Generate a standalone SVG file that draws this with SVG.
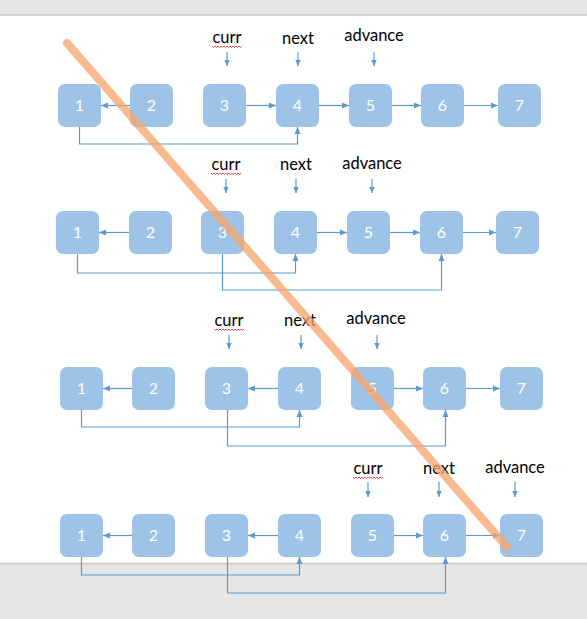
<svg xmlns="http://www.w3.org/2000/svg" width="587" height="619" viewBox="0 0 587 619">
<style>
.bg{fill:#ffffff}
.band{fill:#e6e6e6}
.bandline{stroke:#c8c8c8;stroke-width:1.5;fill:none}
.box{fill:#9dc3e6}
.num{fill:#ffffff;font-family:Lato,"Open Sans","Liberation Sans",sans-serif;font-size:16px;text-anchor:middle}
.lbl{fill:#000000;font-family:Lato,"Open Sans","Liberation Sans",sans-serif;font-size:16.5px;text-anchor:middle}
.con{stroke:#5b9bd5;stroke-width:1.2;fill:none;marker-end:url(#ah)}
.ptr{stroke:#5b9bd5;stroke-width:1.2;fill:none;marker-end:url(#ahs)}
.squig{stroke:#e02020;stroke-width:0.8;fill:none}
.slash{stroke:#f7a46c;stroke-opacity:0.76;stroke-width:8;stroke-linecap:round;fill:none}
</style>
<defs>
<marker id="ah" markerUnits="userSpaceOnUse" markerWidth="8" markerHeight="8" refX="7" refY="4" orient="auto">
<path d="M0,1 L7,4 L0,7 z" fill="#5b9bd5"/>
</marker>
<marker id="ahs" markerUnits="userSpaceOnUse" markerWidth="7" markerHeight="7" refX="6" refY="3.5" orient="auto">
<path d="M0,0.8 L6,3.5 L0,6.2 z" fill="#5b9bd5"/>
</marker>
<rect id="b" width="43" height="43" rx="7" ry="7"/>
</defs>
<rect class="bg" x="0" y="0" width="587" height="619"/>
<rect class="band" x="0" y="0" width="587" height="15"/>
<path class="bandline" d="M0,15 H587"/>
<rect class="band" x="0" y="564" width="587" height="55"/>
<path class="bandline" d="M0,563.5 H587"/>

<!-- Row 1 -->
<g id="r1-n1"><use href="#b" class="box" x="58" y="84"/><text class="num" x="79.5" y="111">1</text></g>
<g id="r1-n2"><use href="#b" class="box" x="130" y="84"/><text class="num" x="151.5" y="111">2</text></g>
<g id="r1-n3"><use href="#b" class="box" x="203" y="84"/><text class="num" x="224.5" y="111">3</text></g>
<g id="r1-n4"><use href="#b" class="box" x="276" y="84"/><text class="num" x="297.5" y="111">4</text></g>
<g id="r1-n5"><use href="#b" class="box" x="349" y="84"/><text class="num" x="370.5" y="111">5</text></g>
<g id="r1-n6"><use href="#b" class="box" x="421" y="84"/><text class="num" x="442.5" y="111">6</text></g>
<g id="r1-n7"><use href="#b" class="box" x="498" y="84"/><text class="num" x="519.5" y="111">7</text></g>
<g id="r1-labels">
<text class="lbl" x="227" y="43">curr</text>
<path class="squig" d="M212,46 l1.5,1.5 l1.5,-1.5 l1.5,1.5 l1.5,-1.5 l1.5,1.5 l1.5,-1.5 l1.5,1.5 l1.5,-1.5 l1.5,1.5 l1.5,-1.5 l1.5,1.5 l1.5,-1.5 l1.5,1.5 l1.5,-1.5 l1.5,1.5 l1.5,-1.5 l1.5,1.5 l1.5,-1.5 l1.5,1.5 l1.5,-1.5"/>
<text class="lbl" x="298" y="44">next</text>
<text class="lbl" x="374" y="41">advance</text>
</g>

<!-- Row 2 -->
<g id="r2-n1"><use href="#b" class="box" x="56" y="211"/><text class="num" x="77.5" y="238">1</text></g>
<g id="r2-n2"><use href="#b" class="box" x="129" y="211"/><text class="num" x="150.5" y="238">2</text></g>
<g id="r2-n3"><use href="#b" class="box" x="201" y="211"/><text class="num" x="222.5" y="238">3</text></g>
<g id="r2-n4"><use href="#b" class="box" x="274" y="211"/><text class="num" x="295.5" y="238">4</text></g>
<g id="r2-n5"><use href="#b" class="box" x="347" y="211"/><text class="num" x="368.5" y="238">5</text></g>
<g id="r2-n6"><use href="#b" class="box" x="420" y="211"/><text class="num" x="441.5" y="238">6</text></g>
<g id="r2-n7"><use href="#b" class="box" x="496" y="211"/><text class="num" x="517.5" y="238">7</text></g>
<g id="r2-labels">
<text class="lbl" x="226" y="170">curr</text>
<path class="squig" d="M211,173 l1.5,1.5 l1.5,-1.5 l1.5,1.5 l1.5,-1.5 l1.5,1.5 l1.5,-1.5 l1.5,1.5 l1.5,-1.5 l1.5,1.5 l1.5,-1.5 l1.5,1.5 l1.5,-1.5 l1.5,1.5 l1.5,-1.5 l1.5,1.5 l1.5,-1.5 l1.5,1.5 l1.5,-1.5 l1.5,1.5 l1.5,-1.5"/>
<text class="lbl" x="296" y="170">next</text>
<text class="lbl" x="372" y="169">advance</text>
</g>

<!-- Row 3 -->
<g id="r3-n1"><use href="#b" class="box" x="60" y="367"/><text class="num" x="81.5" y="394">1</text></g>
<g id="r3-n2"><use href="#b" class="box" x="132" y="367"/><text class="num" x="153.5" y="394">2</text></g>
<g id="r3-n3"><use href="#b" class="box" x="205" y="367"/><text class="num" x="226.5" y="394">3</text></g>
<g id="r3-n4"><use href="#b" class="box" x="278" y="367"/><text class="num" x="299.5" y="394">4</text></g>
<g id="r3-n5"><use href="#b" class="box" x="351" y="367"/><text class="num" x="372.5" y="394">5</text></g>
<g id="r3-n6"><use href="#b" class="box" x="423" y="367"/><text class="num" x="444.5" y="394">6</text></g>
<g id="r3-n7"><use href="#b" class="box" x="500" y="367"/><text class="num" x="521.5" y="394">7</text></g>
<g id="r3-labels">
<text class="lbl" x="229" y="326">curr</text>
<path class="squig" d="M214,329 l1.5,1.5 l1.5,-1.5 l1.5,1.5 l1.5,-1.5 l1.5,1.5 l1.5,-1.5 l1.5,1.5 l1.5,-1.5 l1.5,1.5 l1.5,-1.5 l1.5,1.5 l1.5,-1.5 l1.5,1.5 l1.5,-1.5 l1.5,1.5 l1.5,-1.5 l1.5,1.5 l1.5,-1.5 l1.5,1.5 l1.5,-1.5"/>
<text class="lbl" x="300" y="326">next</text>
<text class="lbl" x="376" y="324">advance</text>
</g>

<!-- Row 4 -->
<g id="r4-n1"><use href="#b" class="box" x="60" y="514"/><text class="num" x="81.5" y="541">1</text></g>
<g id="r4-n2"><use href="#b" class="box" x="132" y="514"/><text class="num" x="153.5" y="541">2</text></g>
<g id="r4-n3"><use href="#b" class="box" x="205" y="514"/><text class="num" x="226.5" y="541">3</text></g>
<g id="r4-n4"><use href="#b" class="box" x="278" y="514"/><text class="num" x="299.5" y="541">4</text></g>
<g id="r4-n5"><use href="#b" class="box" x="351" y="514"/><text class="num" x="372.5" y="541">5</text></g>
<g id="r4-n6"><use href="#b" class="box" x="423" y="514"/><text class="num" x="444.5" y="541">6</text></g>
<g id="r4-n7"><use href="#b" class="box" x="500" y="514"/><text class="num" x="521.5" y="541">7</text></g>
<g id="r4-labels">
<text class="lbl" x="368" y="474">curr</text>
<path class="squig" d="M353,477 l1.5,1.5 l1.5,-1.5 l1.5,1.5 l1.5,-1.5 l1.5,1.5 l1.5,-1.5 l1.5,1.5 l1.5,-1.5 l1.5,1.5 l1.5,-1.5 l1.5,1.5 l1.5,-1.5 l1.5,1.5 l1.5,-1.5 l1.5,1.5 l1.5,-1.5 l1.5,1.5 l1.5,-1.5 l1.5,1.5 l1.5,-1.5"/>
<text class="lbl" x="439" y="474">next</text>
<text class="lbl" x="515" y="473">advance</text>
</g>

<g id="connectors">
<!-- row 1 -->
<path class="ptr" d="M227,52 V66"/>
<path class="ptr" d="M298,52 V66"/>
<path class="ptr" d="M374,52 V66"/>
<path class="con" d="M130,105.5 H101"/>
<path class="con" d="M246,105.5 H276"/>
<path class="con" d="M319,105.5 H349"/>
<path class="con" d="M392,105.5 H421"/>
<path class="con" d="M464,105.5 H498"/>
<path class="con" d="M79.5,127 V144 H297.5 V127"/>
<!-- row 2 -->
<path class="ptr" d="M226,179 V193"/>
<path class="ptr" d="M296,179 V193"/>
<path class="ptr" d="M372,179 V193"/>
<path class="con" d="M129,232.5 H99"/>
<path class="con" d="M317,232.5 H347"/>
<path class="con" d="M390,232.5 H420"/>
<path class="con" d="M463,232.5 H496"/>
<path class="con" d="M77.5,254 V273 H295.5 V254"/>
<path class="con" d="M222.5,254 V290 H441.5 V254"/>
<!-- row 3 -->
<path class="ptr" d="M229,335 V349"/>
<path class="ptr" d="M301,335 V349"/>
<path class="ptr" d="M377,335 V349"/>
<path class="con" d="M132,388.5 H103"/>
<path class="con" d="M278,388.5 H248"/>
<path class="con" d="M394,388.5 H423"/>
<path class="con" d="M466,388.5 H500"/>
<path class="con" d="M81.5,410 V427 H299.5 V410"/>
<path class="con" d="M227.5,410 V446 H445.5 V410"/>
<!-- row 4 -->
<path class="ptr" d="M368,482 V497"/>
<path class="ptr" d="M439,482 V497"/>
<path class="ptr" d="M515,482 V497"/>
<path class="con" d="M132,535.5 H103"/>
<path class="con" d="M278,535.5 H248"/>
<path class="con" d="M394,535.5 H423"/>
<path class="con" d="M466,535.5 H500"/>
<path class="con" d="M81.5,557 V575 H299.5 V557"/>
<path class="con" d="M227.5,557 V593 H445.5 V557"/>
</g>

<path class="slash" d="M67,43 L507,547"/>
</svg>
